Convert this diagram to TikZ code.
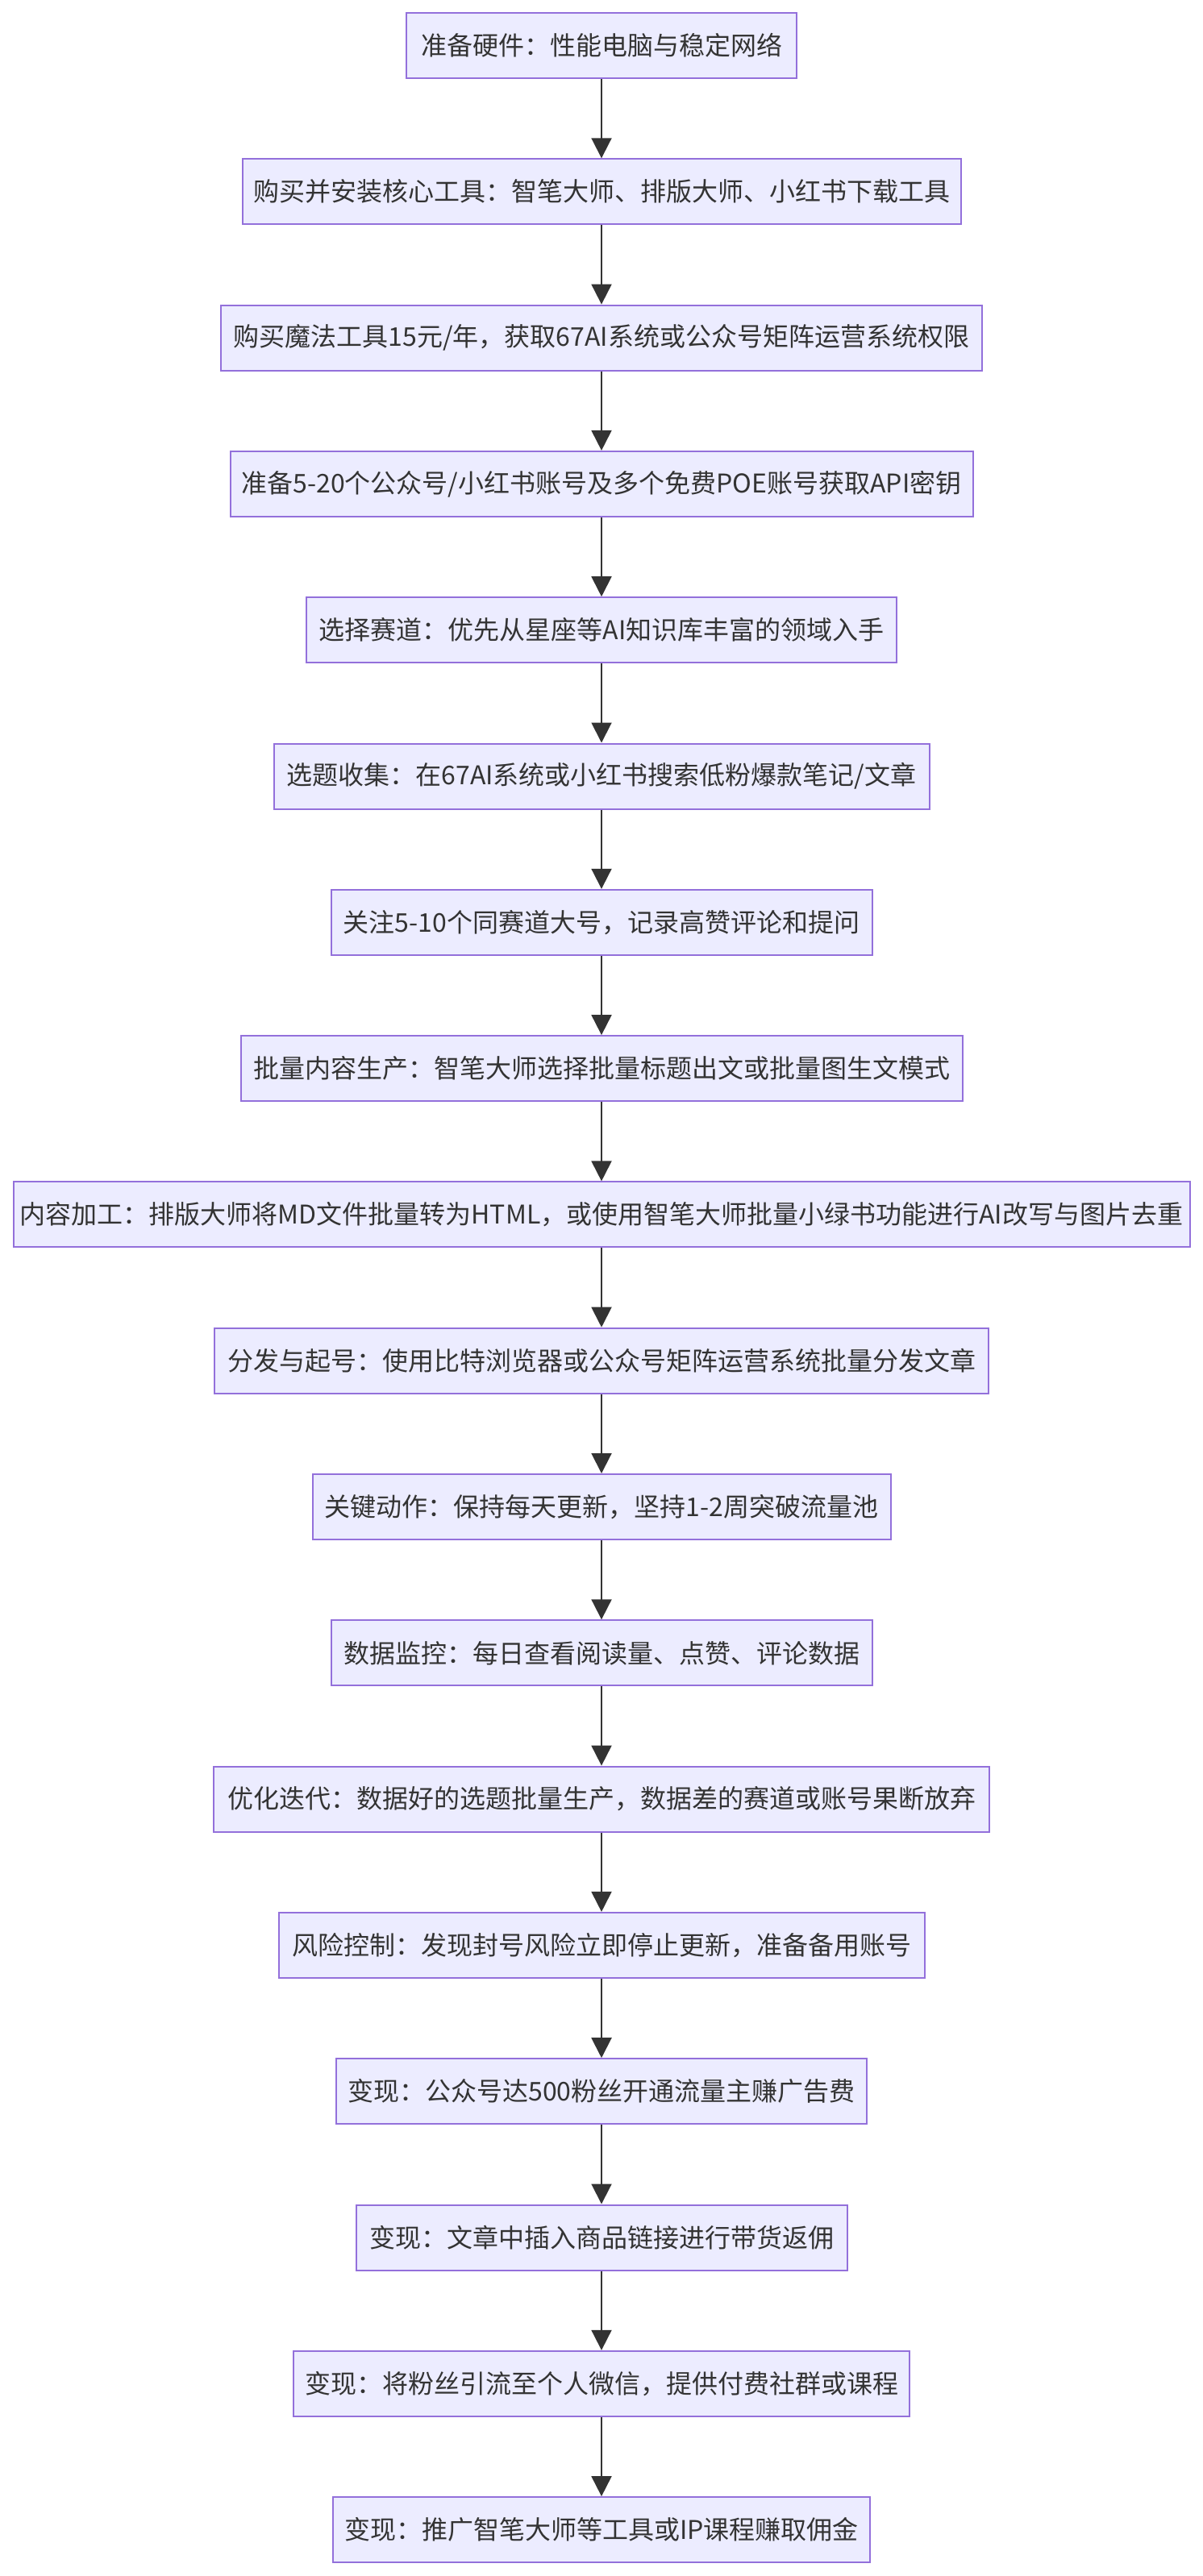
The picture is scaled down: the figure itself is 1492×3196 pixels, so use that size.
\documentclass[tikz,border=0pt]{standalone}
\usepackage{fontspec}
\setmainfont{Noto Sans CJK SC}
\usetikzlibrary{arrows.meta}
\definecolor{nodefill}{HTML}{ECECFF}
\definecolor{nodeline}{HTML}{9370DB}
\definecolor{ink}{HTML}{333333}
\begin{document}
\begin{tikzpicture}[x=0.5pt,y=-0.5pt,
  stepnode/.style={draw=nodeline,fill=nodefill,line width=1pt,rectangle,
    minimum width=#1*0.5pt,minimum height=40.5pt,inner xsep=2pt,inner ysep=0pt,
    text=ink,font=\fontsize{16}{19}\selectfont},
  flowarrow/.style={draw=ink,line width=1pt,-{Triangle[length=12.5pt,width=12.5pt]}}]
\useasboundingbox (0,0) rectangle (1492,3196);
\node[stepnode=484] (n1) at (746,56.5) {准备硬件：性能电脑与稳定网络};
\node[stepnode=891] (n2) at (746,237.8) {购买并安装核心工具：智笔大师、排版大师、小红书下载工具};
\node[stepnode=944] (n3) at (746,419.1) {购买魔法工具15元/年，获取67AI系统或公众号矩阵运营系统权限};
\node[stepnode=921] (n4) at (746,600.4) {准备5-20个公众号/小红书账号及多个免费POE账号获取API密钥};
\node[stepnode=732] (n5) at (746,781.7) {选择赛道：优先从星座等AI知识库丰富的领域入手};
\node[stepnode=813] (n6) at (746,963) {选题收集：在67AI系统或小红书搜索低粉爆款笔记/文章};
\node[stepnode=671] (n7) at (746,1144.3) {关注5-10个同赛道大号，记录高赞评论和提问};
\node[stepnode=895] (n8) at (746,1325.6) {批量内容生产：智笔大师选择批量标题出文或批量图生文模式};
\node[stepnode=1459] (n9) at (746,1506.9) {内容加工：排版大师将MD文件批量转为HTML，或使用智笔大师批量小绿书功能进行AI改写与图片去重};
\node[stepnode=960] (n10) at (746,1688.2) {分发与起号：使用比特浏览器或公众号矩阵运营系统批量分发文章};
\node[stepnode=717] (n11) at (746,1869.5) {关键动作：保持每天更新，坚持1-2周突破流量池};
\node[stepnode=671] (n12) at (746,2050.8) {数据监控：每日查看阅读量、点赞、评论数据};
\node[stepnode=962] (n13) at (746,2232.1) {优化迭代：数据好的选题批量生产，数据差的赛道或账号果断放弃};
\node[stepnode=801] (n14) at (746,2413.4) {风险控制：发现封号风险立即停止更新，准备备用账号};
\node[stepnode=658] (n15) at (746,2594.7) {变现：公众号达500粉丝开通流量主赚广告费};
\node[stepnode=609] (n16) at (746,2776) {变现：文章中插入商品链接进行带货返佣};
\node[stepnode=764] (n17) at (746,2957.3) {变现：将粉丝引流至个人微信，提供付费社群或课程};
\node[stepnode=666] (n18) at (746,3138.6) {变现：推广智笔大师等工具或IP课程赚取佣金};
\foreach \a/\b in {n1/n2,n2/n3,n3/n4,n4/n5,n5/n6,n6/n7,n7/n8,n8/n9,n9/n10,n10/n11,n11/n12,n12/n13,n13/n14,n14/n15,n15/n16,n16/n17,n17/n18}
  \draw[flowarrow] (\a.south) -- (\b.north);
\end{tikzpicture}
\end{document}
